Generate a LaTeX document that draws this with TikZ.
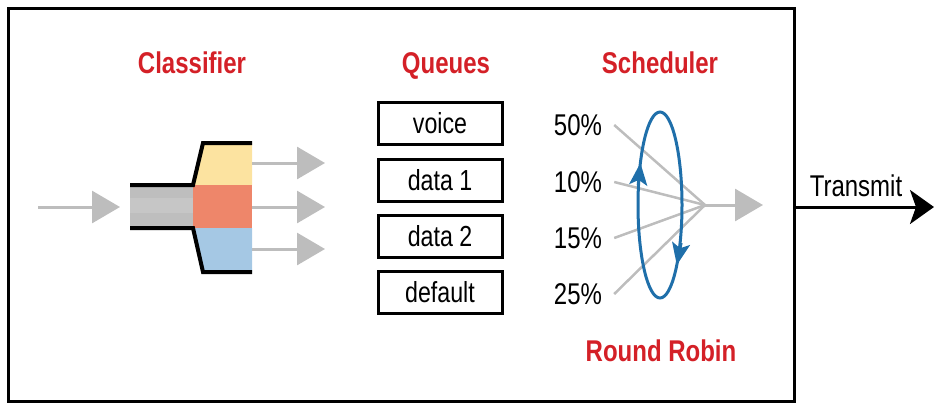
\documentclass[tikz,border=0pt]{standalone}
\usepackage{fontspec}
\setmainfont[FakeStretch=0.8]{Liberation Sans}
\usetikzlibrary{arrows.meta}

\definecolor{headred}{HTML}{D42027}
\definecolor{rrblue}{HTML}{1F6FAA}
\definecolor{flowgray}{HTML}{BDBDBD}
\definecolor{pipegray}{HTML}{BEBEBE}
\definecolor{pipelight}{HTML}{C6C6C6}
\definecolor{clsyellow}{HTML}{FCE3A0}
\definecolor{clsorange}{HTML}{EE866A}
\definecolor{clsblue}{HTML}{A5C8E4}

\begin{document}
\begin{tikzpicture}[
    x=1pt, y=-1pt,
    frame/.style={draw, line width=3pt, minimum width=786pt, minimum height=393pt, inner sep=0pt},
    queue/.style={draw, line width=3pt, minimum width=124pt, minimum height=42pt, inner sep=0pt,
        text height=21pt, text depth=0pt, font=\fontsize{29}{34}\selectfont},
    txt/.style={inner sep=0pt, text height=21pt, text depth=0pt, font=\fontsize{30}{36}\selectfont},
    title/.style={text=headred, font=\fontsize{30}{36}\selectfont\bfseries, inner sep=0pt, anchor=base},
    flow/.style={draw=flowgray, line width=3pt, -{Triangle[length=28pt, width=32pt]}},
    spoke/.style={draw=flowgray, line width=2.5pt},
    robin/.style={draw=rrblue, line width=3pt},
    robintip/.style={robin, -{Stealth[length=22pt, width=18pt, inset=5pt]}},
    edge/.style={line width=4pt}
]
\useasboundingbox (0,0) rectangle (934,405);

% outer box
\node[frame] (box) at (401,204.5) {};

% --- headings ---
\node[title] (cls) at (192,73) {Classifier};
\node[title] (que) at (446,73) {Queues};
\node[title] (sch) at (660,73) {Scheduler};
\node[title] (rr) at (661,361) {Round Robin};

% --- classifier ---
\fill[pipegray] (130,185) rectangle (193,228);
\fill[pipelight] (130,198) rectangle (193,213);
\fill[clsyellow] (193,185) -- (203,143) -- (252,143) -- (252,185) -- cycle;
\fill[clsorange] (193,185) rectangle (252,228);
\fill[clsblue] (193,228) -- (203,272) -- (252,272) -- (252,228) -- cycle;
\draw[edge] (130,185) -- (193,185) -- (203,143) -- (252,143);
\draw[edge] (130,228) -- (193,228) -- (203,272) -- (252,272);

\coordinate (in) at (38,207);
\coordinate (pipe) at (120,207);
\coordinate (c1) at (252,163);
\coordinate (c2) at (252,207);
\coordinate (c3) at (252,249);
\coordinate (o1) at (325,163);
\coordinate (o2) at (325,207);
\coordinate (o3) at (325,249);

\draw[flow] (in) -- (pipe);
\draw[flow] (c1) -- (o1);
\draw[flow] (c2) -- (o2);
\draw[flow] (c3) -- (o3);

% --- queues ---
\node[queue] (voice) at (440,123) {voice};
\node[queue] (data1) at (440,180) {data 1};
\node[queue] (data2) at (440,236) {data 2};
\node[queue] (dflt) at (440,292) {default};

% --- scheduler ---
\node[txt] (p50) at (578,125) {50\%};
\node[txt] (p10) at (578,182) {10\%};
\node[txt] (p15) at (578,238) {15\%};
\node[txt] (p25) at (578,294) {25\%};

\coordinate (hub) at (705,205);
\coordinate (sout) at (763,205);

\foreach \p in {p50,p10,p15,p25}
    \draw[spoke] ([xshift=12pt]\p.east) -- (hub);
\draw[flow] (hub) -- (sout);

\draw[robin] (660,205) ellipse [x radius=22, y radius=93];
% arrow heads on the loop
\coordinate (up0) at (638.2,185);
\coordinate (up1) at (640.4,163);
\coordinate (dn0) at (681.1,243);
\coordinate (dn1) at (676.8,265);
\draw[robintip] (up0) -- (up1);
\draw[robintip] (dn0) -- (dn1);

% --- transmit ---
\node[txt] (tx) at (856,186) {Transmit};
\coordinate (txend) at (934,207);
\draw[line width=3pt, -{Stealth[length=24pt, width=34pt, inset=6pt]}] (box.east |- txend) -- (txend);

\end{tikzpicture}
\end{document}
